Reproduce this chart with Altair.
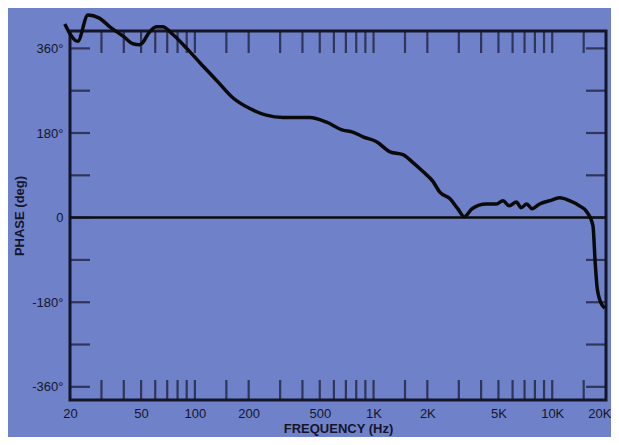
import altair as alt
import pandas as pd

# Phase response curve
freq = [18.7, 22.1, 25.2, 29, 33.4, 40, 45, 49, 51, 55, 61, 66, 75.6, 90, 107, 133, 163,
        203, 251, 311, 440, 546, 674, 763, 873, 1045, 1236, 1460, 1663, 1890, 2150, 2350,
        2680, 2960, 3220, 3560, 4270, 4870, 5300, 5760, 6300, 6700, 7200, 7700, 8500, 9700,
        11000, 12500, 14200, 15600, 16900, 17400, 17900, 19000, 19700]
phase = [412, 375, 431, 425, 406, 385, 370, 368, 372, 392, 406, 406, 389, 360, 329, 291, 255,
         232, 218, 213, 213, 203, 186, 182, 172, 161, 140, 134, 117, 98, 77, 54,
         40, 19, 2, 19, 29, 29, 36, 25, 33, 21, 29, 19, 29, 36,
         42, 36, 25, 12.6, -17, -96, -153, -186, -192]

# Axis ticks and labels
x_minor_ticks = [30, 40, 50, 60, 70, 80, 90, 100, 150, 200, 300, 400, 500, 600, 700, 800, 900,
                 1000, 1500, 2000, 3000, 4000, 5000, 6000, 7000, 8000, 9000, 10000, 15000]
x_label_values = [20, 50, 100, 200, 500, 1000, 2000, 5000, 10000, 20000]
x_label_text = ["20", "50", "100", "200", "500", "1K", "2K", "5K", "10K", "20K"]
y_tick_values = [-360, -270, -180, -90, 0, 90, 180, 270, 360]
y_label_values = [-360, -180, 0, 180, 360]
y_label_text = ["-360°", "-180°", "0", "180°", "360°"]

W, H = 536, 369
INK = "#15152a"
BG = "#6f82c9"

curve = pd.DataFrame({"freq": freq, "phase": phase})
xt = pd.DataFrame({"f": x_minor_ticks})
yt = pd.DataFrame({"p": y_tick_values})

xmap = "{" + ",".join(f"'{v}':'{t}'" for v, t in zip(x_label_values, x_label_text)) + "}"
ymap = "{" + ",".join(f"'{v}':'{t}'" for v, t in zip(y_label_values, y_label_text)) + "}"

xscale = alt.Scale(type="log", domain=[20, 20000], nice=False)
yscale = alt.Scale(domain=[-388, 397], nice=False, zero=False)

xaxis = alt.Axis(values=x_label_values, labelExpr=f"{xmap}[datum.value]", ticks=False,
                 domain=False, grid=False, labelPadding=7, title="FREQUENCY  (Hz)",
                 titlePadding=2, labelFlush=False, labelOverlap=False,
                 labelAlign={"expr": "datum.value >= 20000 ? 'right' : 'center'"},
                 labelOffset={"expr": "datum.value >= 20000 ? 5 : 0"})
yaxis = alt.Axis(values=y_label_values, labelExpr=f"{ymap}[datum.value]", ticks=False,
                 domain=False, grid=False, labelPadding=7, title="PHASE  (deg)",
                 titlePadding=5, labelFlush=False, labelOverlap=False)

line = alt.Chart(curve).mark_line(color="#0a0a0a", strokeWidth=3.5, interpolate="monotone",
                                  clip=False).encode(
    x=alt.X("freq:Q", scale=xscale, axis=xaxis),
    y=alt.Y("phase:Q", scale=yscale, axis=yaxis),
)

zero = alt.Chart(pd.DataFrame({"z": [0]})).mark_rule(color="#0a0a0a", strokeWidth=2.5).encode(
    y=alt.Y("z:Q", scale=yscale)
)

top_ticks = alt.Chart(xt).mark_tick(color=INK, thickness=2.2, size=22, orient="vertical").encode(
    x=alt.X("f:Q", scale=xscale), y=alt.value(11)
)
bot_ticks = alt.Chart(xt).mark_tick(color=INK, thickness=2.2, size=20, orient="vertical").encode(
    x=alt.X("f:Q", scale=xscale), y=alt.value(H - 10)
)
left_ticks = alt.Chart(yt).mark_tick(color=INK, thickness=2.2, size=20, orient="horizontal").encode(
    y=alt.Y("p:Q", scale=yscale), x=alt.value(10)
)
right_ticks = alt.Chart(yt).mark_tick(color=INK, thickness=2.2, size=20, orient="horizontal").encode(
    y=alt.Y("p:Q", scale=yscale), x=alt.value(W - 10)
)

chart = alt.layer(zero, top_ticks, bot_ticks, left_ticks, right_ticks, line).properties(
    width=W, height=H,
    autosize=alt.AutoSizeParams(type="none"),
    padding={"left": 62, "top": 23, "right": 5, "bottom": 37},
    background=BG,
).configure_view(
    stroke=INK, strokeWidth=3
).configure_axis(
    labelFont="Liberation Sans", labelFontSize=13, labelColor=INK,
    titleFont="Liberation Sans", titleFontSize=13, titleFontWeight="bold", titleColor=INK,
)

chart.save("out.html", embed_options={"renderer": "svg", "actions": False})
